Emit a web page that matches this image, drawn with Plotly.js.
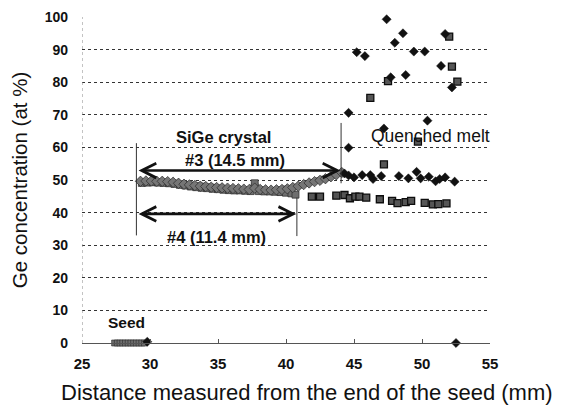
<!DOCTYPE html>
<html>
<head>
<meta charset="utf-8">
<script src="https://cdn.plot.ly/plotly-3.0.1.min.js"></script>
<style>html,body{margin:0;padding:0;background:#fff;}#chart{width:564px;height:409px;}</style>
</head>
<body>
<div id="chart"></div>
<script>
// Seed region (Ge = 0)
const seedX = [27.4, 27.6, 27.8, 28.0, 28.2, 28.4, 28.6, 28.8, 29.0, 29.2, 29.4, 29.6];
const seedY = [0, 0, 0, 0, 0, 0, 0, 0, 0, 0, 0, 0];

// Sample #3 (diamonds): crystal part
const s3CrystalX = [29.3, 29.7, 30.1, 30.5, 30.9, 31.3, 31.7, 32.1, 32.5, 32.9, 33.3, 33.7, 34.1, 34.5, 34.9, 35.3, 35.7, 36.1, 36.5, 36.9, 37.3, 37.7, 38.1, 38.5, 38.9, 39.3, 39.7, 40.1, 40.5, 40.9, 41.3, 41.7, 42.1, 42.5, 42.9, 43.3, 43.7, 44.1];
const s3CrystalY = [49.6, 49.7, 49.7, 49.6, 49.6, 49.5, 49.3, 49.0, 48.7, 48.5, 48.3, 48.1, 48.0, 47.8, 47.7, 47.6, 47.5, 47.4, 47.3, 47.2, 47.1, 47.5, 47.1, 47.0, 46.9, 47.0, 47.1, 47.3, 47.7, 48.1, 48.6, 49.1, 49.5, 49.9, 50.4, 51.0, 51.6, 52.3];
// Sample #4 (squares): crystal part
const s4CrystalX = [29.4, 29.8, 30.2, 30.6, 31.0, 31.4, 31.8, 32.2, 32.6, 33.0, 33.4, 33.8, 34.2, 34.6, 35.0, 35.4, 35.8, 36.2, 36.6, 37.0, 37.4, 37.7, 38.0, 38.4, 38.8, 39.2, 39.6, 40.0, 40.4, 40.7];
const s4CrystalY = [49.1, 49.2, 49.3, 49.2, 49.1, 49.0, 48.8, 48.5, 48.3, 48.0, 47.8, 47.6, 47.5, 47.3, 47.2, 47.0, 46.9, 46.8, 46.8, 46.7, 46.6, 49.0, 46.6, 46.5, 46.5, 46.4, 46.3, 46.1, 45.9, 45.5];

// Sample #3 (diamonds): quenched melt and ends
const s3MeltX = [44.3, 44.6, 45.0, 45.6, 46.2, 46.4, 47.0, 48.3, 49.0, 49.6, 49.9, 50.5, 51.0, 51.3, 51.7, 52.4,
                 44.6, 44.6, 45.2, 45.8, 47.2, 47.4, 47.7, 48.0, 48.6, 48.8, 49.4, 50.2, 50.4, 51.4, 51.7, 52.2,
                 29.8, 52.5];
const s3MeltY = [52.0, 51.4, 50.8, 51.5, 51.5, 50.3, 51.2, 51.2, 50.5, 52.5, 50.5, 51.0, 49.6, 50.3, 50.8, 49.5,
                 59.9, 70.6, 89.2, 88.0, 65.8, 99.3, 81.5, 92.1, 95.0, 82.2, 89.4, 89.4, 68.2, 85.0, 94.8, 78.4,
                 0.4, 0.0];

// Sample #4 (squares): quenched melt
const s4MeltX = [41.9, 42.5, 43.7, 44.3, 44.7, 45.1, 45.4, 45.9, 46.9, 47.8, 48.2, 48.8, 49.2, 50.2, 50.8, 51.2, 51.8,
                 46.2, 47.2, 47.5, 49.7, 52.0, 52.2, 52.6];
const s4MeltY = [44.9, 44.9, 45.2, 45.4, 44.4, 44.9, 44.9, 44.6, 44.1, 43.6, 42.9, 43.2, 43.6, 43.0, 42.5, 42.6, 42.8,
                 75.2, 54.8, 80.3, 61.8, 94.0, 84.8, 80.2];

const xTicks = [25, 30, 35, 40, 45, 50, 55];
const yTicks = [0, 10, 20, 30, 40, 50, 60, 70, 80, 90, 100];

const FONT = 'Arial, "Liberation Sans", sans-serif';

const traces = [
  {x: seedX, y: seedY, type: 'scatter', mode: 'lines+markers', cliponaxis: false, hoverinfo: 'skip',
   line: {color: '#666', width: 5},
   marker: {symbol: 'square', size: 6, color: '#6e6e6e', line: {color: '#2a2a2a', width: 0.6}}},
  {x: s4CrystalX, y: s4CrystalY, type: 'scatter', mode: 'lines+markers', cliponaxis: false,
   line: {color: '#666', width: 6},
   marker: {symbol: 'square', size: 7, color: '#6e6e6e', line: {color: '#2a2a2a', width: 0.7}}},
  {x: s3CrystalX, y: s3CrystalY, type: 'scatter', mode: 'lines+markers', cliponaxis: false,
   line: {color: '#6a6a6a', width: 6},
   marker: {symbol: 'diamond', size: 8, color: '#767676', line: {color: '#2a2a2a', width: 0.7}}},
  {x: s4MeltX, y: s4MeltY, type: 'scatter', mode: 'markers', cliponaxis: false,
   marker: {symbol: 'square', size: 7, color: '#555', line: {color: '#0d0d0d', width: 1.3}}},
  {x: s3MeltX, y: s3MeltY, type: 'scatter', mode: 'markers', cliponaxis: false,
   marker: {symbol: 'diamond', size: 7, color: '#111', line: {color: '#111', width: 0.5}}}
];

const layout = {
  width: 564, height: 409,
  margin: {l: 82, r: 74, t: 17, b: 66, pad: 0},
  paper_bgcolor: '#fff', plot_bgcolor: '#fff',
  showlegend: false,
  font: {family: FONT, color: '#111'},
  xaxis: {
    range: [25, 55], tickvals: xTicks, ticktext: xTicks.map(String),
    showgrid: false, zeroline: false,
    showline: true, linecolor: '#555', linewidth: 1,
    ticks: 'inside', ticklen: 4, tickcolor: '#555',
    tickfont: {family: FONT, size: 15, weight: 'bold', color: '#111'},
    ticklabelstandoff: 7
  },
  yaxis: {
    range: [0, 100], tickvals: yTicks, ticktext: yTicks.map(String),
    showgrid: true, gridcolor: '#333', griddash: 'dot', gridwidth: 1,
    zeroline: false, showline: false, ticks: '',
    tickfont: {family: FONT, size: 14, weight: 'bold', color: '#111'},
    ticklabelstandoff: 13,
    title: {text: 'Ge concentration (at %)', font: {family: FONT, size: 20.5, color: '#111'}, standoff: 11}
  },
  shapes: [
    {type: 'line', xref: 'x', yref: 'y', x0: 25, x1: 25, y0: 0, y1: 100, line: {color: '#888', width: 1, dash: 'dot'}},
    {type: 'line', xref: 'x', yref: 'y', x0: 29.0, x1: 29.0, y0: 33.0, y1: 61.3, line: {color: '#333', width: 1}},
    {type: 'line', xref: 'x', yref: 'y', x0: 44.05, x1: 44.05, y0: 49.0, y1: 67.5, line: {color: '#333', width: 1}},
    {type: 'line', xref: 'x', yref: 'y', x0: 40.8, x1: 40.8, y0: 32.8, y1: 44.6, line: {color: '#333', width: 1}}
  ],
  annotations: [
    {x: 0.551, y: -0.153, xref: 'paper', yref: 'paper', xanchor: 'center', yanchor: 'middle',
     text: 'Distance measured from the end of the seed (mm)', showarrow: false,
     font: {family: FONT, size: 22, color: '#111'}},
    {x: 44.0, y: 52.9, ax: 29.05, ay: 52.9, xref: 'x', yref: 'y', axref: 'x', ayref: 'y', text: '',
     showarrow: true, arrowhead: 5, startarrowhead: 5, arrowside: 'end+start', arrowwidth: 2.6, arrowsize: 1.1, startarrowsize: 1.1, arrowcolor: '#111'},
    {x: 40.75, y: 39.6, ax: 29.05, ay: 39.6, xref: 'x', yref: 'y', axref: 'x', ayref: 'y', text: '',
     showarrow: true, arrowhead: 5, startarrowhead: 5, arrowside: 'end+start', arrowwidth: 2.6, arrowsize: 1.1, startarrowsize: 1.1, arrowcolor: '#111'},
    {x: 35.4, y: 63.2, xref: 'x', yref: 'y', text: '<b>SiGe crystal</b>', showarrow: false, font: {family: FONT, size: 16.5, color: '#111'}},
    {x: 36.25, y: 56.0, xref: 'x', yref: 'y', text: '<b>#3 (14.5 mm)</b>', showarrow: false, font: {family: FONT, size: 16.5, color: '#111'}},
    {x: 34.9, y: 32.4, xref: 'x', yref: 'y', text: '<b>#4 (11.4 mm)</b>', showarrow: false, font: {family: FONT, size: 16.5, color: '#111'}},
    {x: 50.6, y: 63.4, xref: 'x', yref: 'y', text: 'Quenched melt', showarrow: false, font: {family: FONT, size: 17.5, color: '#111'}},
    {x: 28.3, y: 6.4, xref: 'x', yref: 'y', text: '<b>Seed</b>', showarrow: false, font: {family: FONT, size: 15.5, color: '#111'}}
  ]
};

Plotly.newPlot('chart', traces, layout, {displayModeBar: false, staticPlot: true});
</script>
</body>
</html>
